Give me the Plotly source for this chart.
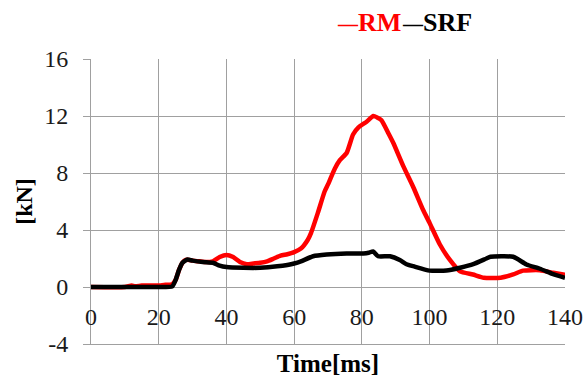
import plotly.graph_objects as go

rm_t = [0, 10, 12, 13, 15, 18, 20, 22, 24, 25, 26, 27, 28, 29, 30, 32, 34, 36, 38, 40, 42, 44, 46, 48, 50,
        52, 54, 56, 58, 60, 62, 64, 65, 67, 69, 70, 72, 73.5, 75.5, 77.4, 79, 81.4, 83.4, 84.5, 85.8, 87.8,
        89.3, 92.2, 95.2, 98.1, 100, 103, 106, 109, 112.8, 116, 121, 124.7, 127.6, 132.6, 136.5, 140]
rm_kn = [0, 0, 0.1, 0.05, 0.1, 0.1, 0.1, 0.15, 0.2, 0.5, 1.2, 1.7, 1.9, 1.9, 1.85, 1.8, 1.75, 1.8, 2.1, 2.25,
         2.1, 1.75, 1.6, 1.65, 1.7, 1.8, 2.0, 2.2, 2.3, 2.45, 2.7, 3.3, 3.8, 5.2, 6.7, 7.2, 8.3, 8.9, 9.4,
         10.7, 11.2, 11.6, 12.0, 11.9, 11.7, 10.8, 10.1, 8.5, 7.0, 5.4, 4.5, 3.0, 1.9, 1.1, 0.88, 0.65, 0.65,
         0.88, 1.15, 1.18, 1.0, 0.85]

srf_t = [0, 10, 20, 24, 25, 26, 27, 28.5, 30, 33, 36, 38, 40, 45, 50, 55, 58, 60, 62, 65.6, 69.6, 75.5, 80.4,
         82, 83.3, 84.8, 88.3, 91.2, 93.2, 95.2, 100, 105, 109, 112.9, 116.8, 118, 124.7, 128.6, 132.6, 136.5, 140]
srf_kn = [0, 0, 0, 0.05, 0.5, 1.2, 1.7, 1.93, 1.85, 1.75, 1.7, 1.5, 1.4, 1.35, 1.35, 1.45, 1.55, 1.65, 1.8,
          2.16, 2.28, 2.35, 2.35, 2.4, 2.5, 2.16, 2.16, 1.9, 1.6, 1.46, 1.15, 1.15, 1.35, 1.6, 2.0, 2.12, 2.12,
          1.58, 1.28, 0.9, 0.65]

x_ticks = [0, 20, 40, 60, 80, 100, 120, 140]
y_ticks = [-4, 0, 4, 8, 12, 16]
series_names = ["RM", "SRF"]
series_colors = ["#ff0000", "#000000"]

FONT = "Liberation Serif, Times New Roman, serif"
GRID = "#a0a0a0"

fig = go.Figure()
fig.add_trace(go.Scatter(x=rm_t, y=rm_kn, mode="lines", name=series_names[0], xaxis="x",
                         line=dict(color=series_colors[0], width=4.5, shape="spline", smoothing=0.5),
                         showlegend=False))
fig.add_trace(go.Scatter(x=srf_t, y=srf_kn, mode="lines", name=series_names[1], xaxis="x2",
                         line=dict(color=series_colors[1], width=4.5, shape="spline", smoothing=0.5),
                         showlegend=False))

legend_x = [0.5148, 0.652]
annotations = [dict(xref="paper", yref="paper", x=lx, y=1.0, yshift=37,
                    xanchor="left", yanchor="middle", showarrow=False,
                    text="<b><span style='font-size:20px'>—</span>" + nm + "</b>",
                    font=dict(family=FONT, size=26, color=col))
               for lx, nm, col in zip(legend_x, series_names, series_colors)]

fig.update_layout(
    width=587, height=378,
    margin=dict(l=91, r=22, t=59, b=34),
    paper_bgcolor="white", plot_bgcolor="white",
    font=dict(family=FONT, size=24, color="#1a1a1a"),
    xaxis=dict(range=[0, 140], tickvals=x_ticks, ticktext=[str(v) for v in x_ticks],
               showgrid=True, gridcolor=GRID, gridwidth=1, zeroline=False, automargin=False,
               showline=False, ticks="", anchor="free", position=0.2,
               ticklabelstandoff=13, tickfont=dict(family=FONT, size=24, color="#1a1a1a")),
    xaxis2=dict(range=[0, 140], overlaying="x", anchor="y", side="bottom", automargin=False,
                showgrid=False, showticklabels=False, ticks="", zeroline=False,
                showline=True, linecolor=GRID, linewidth=1,
                title=dict(text="<b>Time[ms]</b>", font=dict(family=FONT, size=25, color="#000"), standoff=10)),
    yaxis=dict(range=[-4, 16], tickvals=y_ticks, ticktext=[str(v) for v in y_ticks],
               showgrid=True, gridcolor=GRID, gridwidth=1, automargin=False,
               zeroline=True, zerolinecolor=GRID, zerolinewidth=1,
               showline=True, linecolor=GRID, linewidth=1,
               ticks="outside", ticklen=7, tickcolor=GRID, ticklabelstandoff=10,
               tickfont=dict(family=FONT, size=24, color="#1a1a1a"),
               title=dict(text="<b>[kN]</b>", font=dict(family=FONT, size=24, color="#000"), standoff=4)),
    annotations=annotations,
)

fig.write_html("out.html")
